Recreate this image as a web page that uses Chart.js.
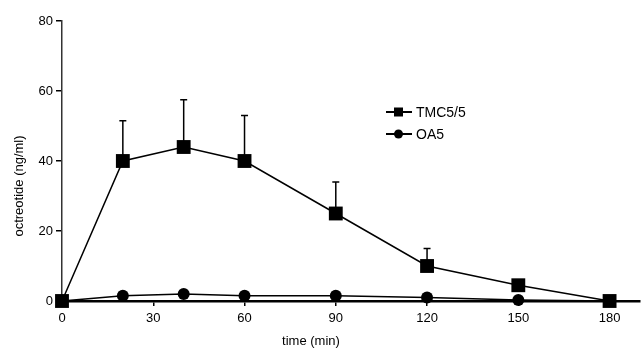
<!DOCTYPE html>
<html>
<head>
<meta charset="utf-8">
<script src="https://cdn.jsdelivr.net/npm/chart.js@4/dist/chart.umd.min.js"></script>
<style>
  html, body { margin: 0; padding: 0; background: #fff; }
  #wrap { width: 641px; height: 353px; }
</style>
</head>
<body>
<div id="wrap"><canvas id="c" width="641" height="353"></canvas></div>
<script>
// values
const times = [0, 20, 40, 60, 90, 120, 150, 180];
const tmc = [0, 40, 44, 40, 25, 10, 4.5, 0];
const tmcErr = [0, 11.5, 13.5, 13, 9, 5, 0, 0];
const oa5 = [0, 1.5, 2, 1.5, 1.5, 1, 0.3, 0];
const xTicks = [0, 30, 60, 90, 120, 150, 180];
const yTicks = [0, 20, 40, 60, 80];

const font = "'Liberation Sans', Arial, sans-serif";
Chart.defaults.font.family = font;
Chart.defaults.color = '#000';

// upward-only error bars
const errorBars = {
    id: 'errorBars',
    afterDatasetsDraw(chart) {
	const ctx = chart.ctx;
	const xs = chart.scales.x, ys = chart.scales.y;
	chart.data.datasets.forEach(ds => {
	    if (!ds.errs) return;
	    ctx.save();
	    ctx.strokeStyle = '#000';
	    ctx.lineWidth = 1.5;
	    ds.data.forEach((p, i) => {
		const e = ds.errs[i];
		if (!e) return;
		const x = xs.getPixelForValue(p.x);
		const y0 = ys.getPixelForValue(p.y);
		const y1 = ys.getPixelForValue(p.y + e);
		ctx.beginPath();
		ctx.moveTo(x, y0);
		ctx.lineTo(x, y1);
		ctx.moveTo(x - 3.5, y1);
		ctx.lineTo(x + 3.5, y1);
		ctx.stroke();
	    });
	    ctx.restore();
	});
    }
};

// legend and axis titles placed like in the figure
const extras = {
    id: 'extras',
    afterDraw(chart) {
	const ctx = chart.ctx;
	ctx.save();
	ctx.fillStyle = '#000';
	ctx.strokeStyle = '#000';
	ctx.font = '14px ' + font;
	ctx.textBaseline = 'middle';
	chart.data.datasets.forEach((ds, i) => {
	    const y = 112 + i * 22;
	    ctx.lineWidth = 2;
	    ctx.beginPath();
	    ctx.moveTo(386, y);
	    ctx.lineTo(412, y);
	    ctx.stroke();
	    ctx.beginPath();
	    if (ds.pointStyle === 'rect') {
		ctx.rect(394, y - 4.5, 9, 9);
	    } else {
		ctx.arc(398.5, y, 4.5, 0, Math.PI * 2);
	    }
	    ctx.fill();
	    ctx.fillText(ds.label, 416, y + 1);
	});
	ctx.font = '13px ' + font;
	ctx.textAlign = 'center';
	ctx.fillText('time (min)', 311, 341);
	ctx.translate(19, 186);
	ctx.rotate(-Math.PI / 2);
	ctx.fillText('octreotide (ng/ml)', 0, 0);
	ctx.restore();
    }
};

new Chart(
    document.getElementById('c'),
    {
	type: 'line',
	data: {
	    datasets: [
		{
		    label: 'TMC5/5',
		    data: times.map((t, i) => ({ x: t, y: tmc[i] })),
		    errs: tmcErr,
		    borderColor: '#000',
		    backgroundColor: '#000',
		    borderWidth: 1.5,
		    pointStyle: 'rect',
		    pointRadius: 9.8,
		    pointBorderWidth: 0,
		    clip: false
		},
		{
		    label: 'OA5',
		    data: times.map((t, i) => ({ x: t, y: oa5[i] })),
		    borderColor: '#000',
		    backgroundColor: '#000',
		    borderWidth: 1.5,
		    pointStyle: 'circle',
		    pointRadius: 6,
		    pointBorderWidth: 0,
		    clip: false
		}
	    ]
	},
	options: {
	    responsive: false,
	    animation: false,
	    layout: { autoPadding: false, padding: { top: 21, right: 1, left: 0, bottom: 0 } },
	    plugins: {
		legend: { display: false },
		tooltip: { enabled: false }
	    },
	    scales: {
		x: {
		    type: 'linear',
		    min: 0,
		    max: 190,
		    afterBuildTicks: s => { s.ticks = xTicks.map(v => ({ value: v })); },
		    afterFit: s => { s.height = 52; },
		    border: { display: true, color: '#000', width: 2.5 },
		    grid: { drawOnChartArea: false, drawTicks: true, tickLength: 5, color: '#000', lineWidth: 1.5 },
		    ticks: { font: { size: 13 }, padding: 5, maxRotation: 0 }
		},
		y: {
		    min: 0,
		    max: 80,
		    afterBuildTicks: s => { s.ticks = yTicks.map(v => ({ value: v })); },
		    afterFit: s => { s.width = 62; },
		    border: { display: true, color: '#333', width: 1.5 },
		    grid: { drawOnChartArea: false, drawTicks: true, tickLength: 6, color: '#000', lineWidth: 1.5 },
		    ticks: { font: { size: 13 }, padding: 3 }
		}
	    }
	},
	plugins: [errorBars, extras]
    }
);
</script>
</body>
</html>
